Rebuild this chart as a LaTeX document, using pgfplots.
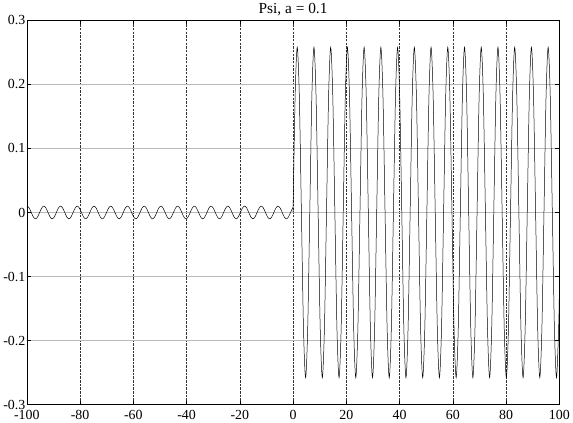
\documentclass[border=0pt]{standalone}
\usepackage{pgfplots}
\pgfplotsset{compat=1.18}
\usepackage{fontspec}
\setmainfont{Liberation Serif}

\begin{document}
\begin{tikzpicture}
\begin{axis}[
    scale only axis,
    width=535bp, height=386bp,
    xmin=-100, xmax=100, ymin=-0.3, ymax=0.3,
    xtick={-100,-80,...,100},
    ytick={-0.3,-0.2,...,0.3},
    axis line style={black, line width=0.5pt},
    tick align=inside, major tick length=4pt,
    tick style={black, line width=0.4pt},
    grid=major,
    x grid style={black!80, line width=0.45pt, dash pattern=on 2.5pt off 1.2pt},
    y grid style={gray!55, line width=0.6pt},
    every tick label/.append style={font=\fontsize{14}{16}\selectfont},
    yticklabel style={/pgf/number format/fixed, /pgf/number format/precision=1, xshift=2pt},
    xticklabel style={yshift=-2pt},
    /pgf/number format/assume math mode=true,
    title={Psi, a = 0.1},
    title style={font=\fontsize{15.5}{17}\selectfont, yshift=-5pt},
]
% x < 0: small ripple
\addplot[black, line width=0.5pt, smooth] coordinates {
(-100,0.0099) (-99.891,0.010) (-99.106,0.007) (-98.320,0) (-97.535,-0.007) (-96.749,-0.010) (-95.964,-0.007) (-95.179,0) (-94.393,0.007)
(-93.608,0.010) (-92.822,0.007) (-92.037,0) (-91.252,-0.007) (-90.466,-0.010) (-89.681,-0.007) (-88.895,0) (-88.110,0.007)
(-87.325,0.010) (-86.539,0.007) (-85.754,0) (-84.968,-0.007) (-84.183,-0.010) (-83.398,-0.007) (-82.612,0) (-81.827,0.007)
(-81.041,0.010) (-80.256,0.007) (-79.471,0) (-78.685,-0.007) (-77.900,-0.010) (-77.114,-0.007) (-76.329,0) (-75.544,0.007)
(-74.758,0.010) (-73.973,0.007) (-73.187,0) (-72.402,-0.007) (-71.617,-0.010) (-70.831,-0.007) (-70.046,0) (-69.260,0.007)
(-68.475,0.010) (-67.690,0.007) (-66.904,0) (-66.119,-0.007) (-65.333,-0.010) (-64.548,-0.007) (-63.763,0) (-62.977,0.007)
(-62.192,0.010) (-61.406,0.007) (-60.621,0) (-59.836,-0.007) (-59.050,-0.010) (-58.265,-0.007) (-57.479,0) (-56.694,0.007)
(-55.909,0.010) (-55.123,0.007) (-54.338,0) (-53.552,-0.007) (-52.767,-0.010) (-51.982,-0.007) (-51.196,0) (-50.411,0.007)
(-49.625,0.010) (-48.840,0.007) (-48.055,0) (-47.269,-0.007) (-46.484,-0.010) (-45.699,-0.007) (-44.913,0) (-44.128,0.007)
(-43.342,0.010) (-42.557,0.007) (-41.772,0) (-40.986,-0.007) (-40.201,-0.010) (-39.415,-0.007) (-38.630,0) (-37.845,0.007)
(-37.059,0.010) (-36.274,0.007) (-35.488,0) (-34.703,-0.007) (-33.918,-0.010) (-33.132,-0.007) (-32.347,0) (-31.561,0.007)
(-30.776,0.010) (-29.991,0.007) (-29.205,0) (-28.420,-0.007) (-27.634,-0.010) (-26.849,-0.007) (-26.064,0) (-25.278,0.007)
(-24.493,0.010) (-23.707,0.007) (-22.922,0) (-22.137,-0.007) (-21.351,-0.010) (-20.566,-0.007) (-19.780,0) (-18.995,0.007)
(-18.210,0.010) (-17.424,0.007) (-16.639,0) (-15.853,-0.007) (-15.068,-0.010) (-14.283,-0.007) (-13.497,0) (-12.712,0.007)
(-11.926,0.010) (-11.141,0.007) (-10.356,0) (-9.570,-0.007) (-8.785,-0.010) (-7.999,-0.007) (-7.214,0) (-6.429,0.007)
(-5.643,0.010) (-4.858,0.007) (-4.072,0) (-3.287,-0.007) (-2.502,-0.010) (-1.716,-0.007) (-0.931,0) (-0.145,0.007)
(0,0.008)
};
% x > 0: large wave
\addplot[black, line width=0.5pt, smooth] coordinates {
(0,0) (0.785,0.182) (1.571,0.258) (2.356,0.182) (3.142,0) (3.927,-0.182) (4.712,-0.258) (5.498,-0.182)
(6.283,0) (7.069,0.182) (7.854,0.258) (8.639,0.182) (9.425,0) (10.210,-0.182) (10.996,-0.258) (11.781,-0.182)
(12.566,0) (13.352,0.182) (14.137,0.258) (14.923,0.182) (15.708,0) (16.493,-0.182) (17.279,-0.258) (18.064,-0.182)
(18.850,0) (19.635,0.182) (20.420,0.258) (21.206,0.182) (21.991,0) (22.777,-0.182) (23.562,-0.258) (24.347,-0.182)
(25.133,0) (25.918,0.182) (26.704,0.258) (27.489,0.182) (28.274,0) (29.060,-0.182) (29.845,-0.258) (30.631,-0.182)
(31.416,0) (32.201,0.182) (32.987,0.258) (33.772,0.182) (34.558,0) (35.343,-0.182) (36.128,-0.258) (36.914,-0.182)
(37.699,0) (38.485,0.182) (39.270,0.258) (40.055,0.182) (40.841,0) (41.626,-0.182) (42.412,-0.258) (43.197,-0.182)
(43.982,0) (44.768,0.182) (45.553,0.258) (46.339,0.182) (47.124,0) (47.909,-0.182) (48.695,-0.258) (49.480,-0.182)
(50.265,0) (51.051,0.182) (51.836,0.258) (52.622,0.182) (53.407,0) (54.192,-0.182) (54.978,-0.258) (55.763,-0.182)
(56.549,0) (57.334,0.182) (58.119,0.258) (58.905,0.182) (59.690,0) (60.476,-0.182) (61.261,-0.258) (62.046,-0.182)
(62.832,0) (63.617,0.182) (64.403,0.258) (65.188,0.182) (65.973,0) (66.759,-0.182) (67.544,-0.258) (68.330,-0.182)
(69.115,0) (69.900,0.182) (70.686,0.258) (71.471,0.182) (72.257,0) (73.042,-0.182) (73.827,-0.258) (74.613,-0.182)
(75.398,0) (76.184,0.182) (76.969,0.258) (77.754,0.182) (78.540,0) (79.325,-0.182) (80.111,-0.258) (80.896,-0.182)
(81.681,0) (82.467,0.182) (83.252,0.258) (84.038,0.182) (84.823,0) (85.608,-0.182) (86.394,-0.258) (87.179,-0.182)
(87.965,0) (88.750,0.182) (89.535,0.258) (90.321,0.182) (91.106,0) (91.892,-0.182) (92.677,-0.258) (93.462,-0.182)
(94.248,0) (95.033,0.182) (95.819,0.258) (96.604,0.182) (97.389,0) (98.175,-0.182) (98.960,-0.258) (99.746,-0.182)
(100,-0.131)
};
\end{axis}
\end{tikzpicture}
\end{document}
